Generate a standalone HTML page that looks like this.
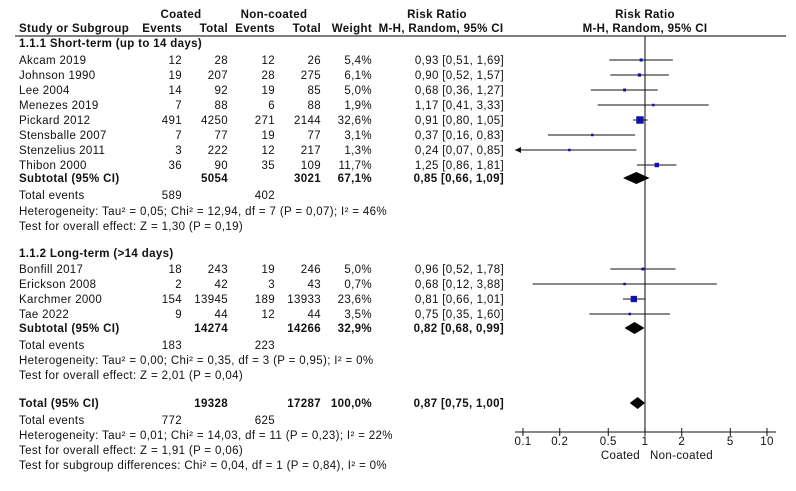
<!DOCTYPE html>
<html><head><meta charset="utf-8"><style>
body{margin:0;background:#fff;}
svg text{font-family:"Liberation Sans",sans-serif;font-size:11.5px;letter-spacing:0.35px;fill:#111;}
.b{font-weight:bold;}
</style></head><body>
<svg id="fp" width="796" height="486" xmlns="http://www.w3.org/2000/svg"></svg>
<script>
const studies=["Akcam 2019","Johnson 1990","Lee 2004","Menezes 2019","Pickard 2012","Stensballe 2007","Stenzelius 2011","Thibon 2000","Bonfill 2017","Erickson 2008","Karchmer 2000","Tae 2022"];
const cEvents=[12,19,14,7,491,7,3,36,18,2,154,9];
const cTotal=[28,207,92,88,4250,77,222,90,243,42,13945,44];
const nEvents=[12,28,19,6,271,19,12,35,19,3,189,12];
const nTotal=[26,275,85,88,2144,77,217,109,246,43,13933,44];
const weights=[5.4,6.1,5.0,1.9,32.6,3.1,1.3,11.7,5.0,0.7,23.6,3.5];
const rr=[0.93,0.90,0.68,1.17,0.91,0.37,0.24,1.25,0.96,0.68,0.81,0.75];
const lo=[0.51,0.52,0.36,0.41,0.80,0.16,0.07,0.86,0.52,0.12,0.66,0.35];
const hi=[1.69,1.57,1.27,3.33,1.05,0.83,0.85,1.81,1.78,3.88,1.01,1.60];
const rowY=[60,75,90,105,120,135,150,165,269,284,299,314];
const subNames=["Subtotal (95% CI)","Subtotal (95% CI)","Total (95% CI)"];
const subRR=[0.85,0.82,0.87];
const subLo=[0.66,0.68,0.75];
const subHi=[1.09,0.99,1.00];
const subCT=[5054,14274,19328];
const subNT=[3021,14266,17287];
const subW=["67,1%","32,9%","100,0%"];
const subY=[178,328,403];
const ticks=[0.1,0.2,0.5,1,2,5,10];

const svg=document.getElementById('fp');
const NS="http://www.w3.org/2000/svg";
const X0=645,DEC=122,AXL=515,AXR=776,AXY=432;
function xs(v){return X0+DEC*Math.log10(v);}
function f2(v){return v.toFixed(2).replace('.',',');}
function mk(tag,attrs,name,txt){const e=document.createElementNS(NS,tag);for(const k in attrs)e.setAttribute(k,attrs[k]);


if(txt!==undefined)e.textContent=txt;svg.appendChild(e);return e;}
function t(x,y,s,name,anchor,cls){return mk('text',{x:x,y:y+4,'text-anchor':anchor||'start',class:cls||''},name,s);}

// headers
t(181,14,"Coated","coated-header","middle","b");
t(274,14,"Non-coated","noncoated-header","middle","b");
t(19,28,"Study or Subgroup","study-header","start","b");
t(182,28,"Events","coated-events-header","end","b");
t(228,28,"Total","coated-total-header","end","b");
t(275,28,"Events","noncoated-events-header","end","b");
t(321,28,"Total","noncoated-total-header","end","b");
t(372,28,"Weight","weight-header","end","b");
t(437,14,"Risk Ratio","rr-text-header","middle","b");
t(441,28,"M-H, Random, 95% CI","rr-method-header","middle","b");
t(645,14,"Risk Ratio","rr-plot-header","middle","b");
t(645,28,"M-H, Random, 95% CI","rr-plot-method-header","middle","b");
mk('line',{x1:15,y1:36,x2:786,y2:36,stroke:'#333','stroke-width':1.3},'header-rule');

t(19,43,"1.1.1 Short-term (up to 14 days)","short-term-title","start","b");
t(19,253,"1.1.2 Long-term (>14 days)","long-term-title","start","b");

// vertical line
mk('line',{x1:X0,y1:36,x2:X0,y2:AXY,stroke:'#333','stroke-width':1.2},'null-line');

for(let i=0;i<studies.length;i++){
 const y=rowY[i];
 t(19,y,studies[i],'study-name');
 t(182,y,cEvents[i],'coated-events','end');
 t(228,y,cTotal[i],'coated-total','end');
 t(275,y,nEvents[i],'noncoated-events','end');
 t(321,y,nTotal[i],'noncoated-total','end');
 t(372,y,weights[i].toFixed(1).replace('.',',')+'%','weight','end');
 t(504,y,f2(rr[i])+' ['+f2(lo[i])+', '+f2(hi[i])+']','risk-ratio-ci','end');
 const x1=Math.max(xs(lo[i]),AXL),x2=Math.min(xs(hi[i]),AXR);
 mk('line',{x1:x1,y1:y,x2:x2,y2:y,stroke:'#111','stroke-width':1},'ci-line');
 if(lo[i]<0.1)mk('path',{d:`M${AXL} ${y}l6 -3v6z`,fill:'#111'},'ci-arrow');
 const s=Math.max(2.5,Math.sqrt(weights[i])*1.3);
 mk('rect',{x:xs(rr[i])-s/2,y:y-s/2,width:s,height:s,fill:'#1010b0'},'study-marker');
}
for(let j=0;j<3;j++){
 const y=subY[j];
 t(19,y,subNames[j],'subtotal-label','start','b');
 t(228,y,subCT[j],'subtotal-coated-total','end','b');
 t(321,y,subNT[j],'subtotal-noncoated-total','end','b');
 t(372,y,subW[j],'subtotal-weight','end','b');
 t(504,y,f2(subRR[j])+' ['+f2(subLo[j])+', '+f2(subHi[j])+']','subtotal-risk-ratio','end','b');
 mk('path',{d:`M${xs(subLo[j])} ${y}L${xs(subRR[j])} ${y-6}L${xs(subHi[j])} ${y}L${xs(subRR[j])} ${y+6}Z`,fill:'#000'},'subtotal-diamond');
}
const foot=[[195,"Total events","589","402"],[345,"Total events","183","223"],[420,"Total events","772","625"]];
foot.forEach(f=>{t(19,f[0],f[1],'total-events-label');t(182,f[0],f[2],'total-events-coated','end');t(275,f[0],f[3],'total-events-noncoated','end');});
const notes=[[211,"Heterogeneity: Tau² = 0,05; Chi² = 12,94, df = 7 (P = 0,07); I² = 46%"],[226,"Test for overall effect: Z = 1,30 (P = 0,19)"],
[360,"Heterogeneity: Tau² = 0,00; Chi² = 0,35, df = 3 (P = 0,95); I² = 0%"],[375,"Test for overall effect: Z = 2,01 (P = 0,04)"],
[435,"Heterogeneity: Tau² = 0,01; Chi² = 14,03, df = 11 (P = 0,23); I² = 22%"],[450,"Test for overall effect: Z = 1,91 (P = 0,06)"],
[465,"Test for subgroup differences: Chi² = 0,04, df = 1 (P = 0,84), I² = 0%"]];
notes.forEach(n=>t(19,n[0],n[1],'statistics-note'));

mk('line',{x1:AXL,y1:AXY,x2:AXR,y2:AXY,stroke:'#111','stroke-width':1},'x-axis');
ticks.forEach(v=>{mk('line',{x1:xs(v),y1:AXY-4,x2:xs(v),y2:AXY+4,stroke:'#111'},'x-tick');
 t(xs(v),AXY+9,String(v),'x-tick-label','middle');});
t(640,AXY+23,"Coated","favours-coated-label","end");
t(650,AXY+23,"Non-coated","favours-noncoated-label","start");
</script>
</body></html>
